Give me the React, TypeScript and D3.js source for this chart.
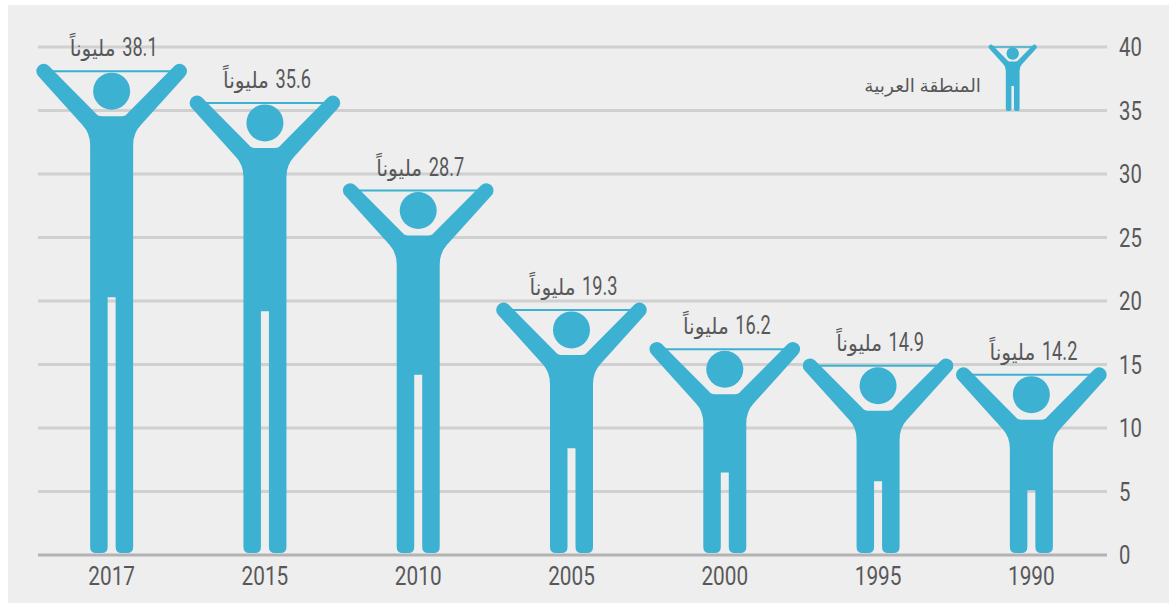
import React, { useEffect, useRef } from "react";
import * as d3 from "d3";

const years = ["2017", "2015", "2010", "2005", "2000", "1995", "1990"];
const values = [38.1, 35.6, 28.7, 19.3, 16.2, 14.9, 14.2];
// height of the top of the gap between the legs
const crotchValues = [20.3, 19.2, 14.2, 8.4, 6.5, 5.8, 5.1];
const yTicks = [0, 5, 10, 15, 20, 25, 30, 35, 40];
const unitLabel = "مليوناً";
const legendLabel = "المنطقة العربية";

const BLUE = "#3cb1d2";
const TEXT = "#58585a";
const FONT = "Roboto, 'DejaVu Sans', sans-serif";
const RAD = Math.PI / 180;

// person shape, s scales the widths (legend icon is a small one)
const personPath = (cx: number, top: number, bottom: number, split: number, s: number) => {
  const p = d3.path();
  const X = (d: number, v: number) => cx + d * v * s;
  const Y = (v: number) => top + v * s;
  const foot = 6 * s;

  p.moveTo(X(1, 4), split);
  p.lineTo(X(1, 4), bottom - foot);
  p.quadraticCurveTo(X(1, 4), bottom, X(1, 10), bottom);
  p.lineTo(X(1, 15.5), bottom);
  p.quadraticCurveTo(X(1, 21.5), bottom, X(1, 21.5), bottom - foot);
  p.lineTo(X(1, 21.5), Y(74));
  p.quadraticCurveTo(X(1, 21.5), Y(62), X(1, 29), Y(54));
  p.lineTo(X(1, 73), Y(5.3));
  p.arc(X(1, 68), top, 7.3 * s, 47 * RAD, -133 * RAD, true);
  p.lineTo(X(1, 16), Y(42));
  p.quadraticCurveTo(X(1, 14), Y(45), X(1, 10), Y(45));
  p.lineTo(X(-1, 10), Y(45));
  p.quadraticCurveTo(X(-1, 14), Y(45), X(-1, 16), Y(42));
  p.lineTo(X(-1, 63), Y(-5.3));
  p.arc(X(-1, 68), top, 7.3 * s, -47 * RAD, -227 * RAD, true);
  p.lineTo(X(-1, 29), Y(54));
  p.quadraticCurveTo(X(-1, 21.5), Y(62), X(-1, 21.5), Y(74));
  p.lineTo(X(-1, 21.5), bottom - foot);
  p.quadraticCurveTo(X(-1, 21.5), bottom, X(-1, 15.5), bottom);
  p.lineTo(X(-1, 10), bottom);
  p.quadraticCurveTo(X(-1, 4), bottom, X(-1, 4), bottom - foot);
  p.lineTo(X(-1, 4), split);
  p.closePath();
  return p.toString();
};

const App = () => {
  const svgRef = useRef<SVGSVGElement>(null);

  useEffect(() => {
    const width = 1169;
    const height = 603;
    const svg = d3.select(svgRef.current);
    svg.selectAll("*").remove();
    svg.attr("width", width).attr("height", height);

    const x = d3.scaleBand().domain(years).range([35, 1108]);
    const y = d3.scaleLinear().domain([0, 40]).range([555, 47]);

    svg.append("rect").attr("x", 8).attr("y", 5).attr("width", width - 8).attr("height", 598).attr("fill", "#eeeeee");

    // gridlines
    svg
      .selectAll(".grid")
      .data(yTicks)
      .enter()
      .append("line")
      .attr("x1", 38)
      .attr("x2", 1107)
      .attr("y1", (d) => y(d))
      .attr("y2", (d) => y(d))
      .attr("stroke", (d) => (d === 0 ? "#b3b3b5" : "#d0d0d0"))
      .attr("stroke-width", 3);

    // y tick labels, squeezed because there is no condensed font
    svg
      .selectAll(".tick-label")
      .data(yTicks)
      .enter()
      .append("text")
      .attr("transform", (d) => `translate(1119,${y(d) + 9}) scale(0.78,1)`)
      .attr("font-family", FONT)
      .attr("font-size", 26)
      .attr("fill", TEXT)
      .text((d) => d);

    // people
    const cx = (d: string) => (x(d) as number) + x.bandwidth() / 2;
    svg
      .selectAll(".person")
      .data(years)
      .enter()
      .append("path")
      .attr("d", (d, i) => personPath(cx(d), y(values[i]), 553, y(crotchValues[i]), 1))
      .attr("fill", BLUE);
    svg
      .selectAll(".head")
      .data(years)
      .enter()
      .append("circle")
      .attr("cx", cx)
      .attr("cy", (d, i) => y(values[i]) + 20)
      .attr("r", 18.5)
      .attr("fill", BLUE);
    svg
      .selectAll(".bar")
      .data(years)
      .enter()
      .append("line")
      .attr("x1", (d) => cx(d) - 62)
      .attr("x2", (d) => cx(d) + 62)
      .attr("y1", (d, i) => y(values[i]))
      .attr("y2", (d, i) => y(values[i]))
      .attr("stroke", BLUE)
      .attr("stroke-width", 2);

    // value labels: number and unit are separate texts, they need different squeezing
    svg
      .selectAll(".value")
      .data(years)
      .enter()
      .append("text")
      .attr("transform", (d, i) => `translate(${cx(d) + 46},${y(values[i]) - 15}) scale(0.7,1)`)
      .attr("text-anchor", "end")
      .attr("font-family", FONT)
      .attr("font-size", 26)
      .attr("fill", TEXT)
      .text((d, i) => values[i]);
    svg
      .selectAll(".unit")
      .data(years)
      .enter()
      .append("text")
      .attr("transform", (d, i) => `translate(${cx(d) + 4},${y(values[i]) - 15}) scale(0.92,1)`)
      .attr("text-anchor", "start")
      .attr("direction", "rtl")
      .attr("font-family", FONT)
      .attr("font-size", 22)
      .attr("fill", TEXT)
      .text(unitLabel);

    // year labels
    svg
      .selectAll(".year")
      .data(years)
      .enter()
      .append("text")
      .attr("transform", (d) => `translate(${cx(d)},585) scale(0.8,1)`)
      .attr("text-anchor", "middle")
      .attr("font-family", FONT)
      .attr("font-size", 26)
      .attr("fill", TEXT)
      .text((d) => d);

    // legend
    svg
      .append("path")
      .attr("d", personPath(1012.7, 47, 111, 86, 0.32))
      .attr("fill", BLUE);
    svg.append("circle").attr("cx", 1012.7).attr("cy", 53.5).attr("r", 6.2).attr("fill", BLUE);
    svg
      .append("line")
      .attr("x1", 992)
      .attr("x2", 1033)
      .attr("y1", 47)
      .attr("y2", 47)
      .attr("stroke", BLUE)
      .attr("stroke-width", 1.5);
    svg
      .append("text")
      .attr("x", 981)
      .attr("y", 92)
      .attr("text-anchor", "start")
      .attr("direction", "rtl")
      .attr("font-family", FONT)
      .attr("font-size", 18.5)
      .attr("fill", TEXT)
      .text(legendLabel);
  }, []);

  return <svg ref={svgRef} style={{ position: "absolute", left: 0, top: 0 }}></svg>;
};

export default App;
